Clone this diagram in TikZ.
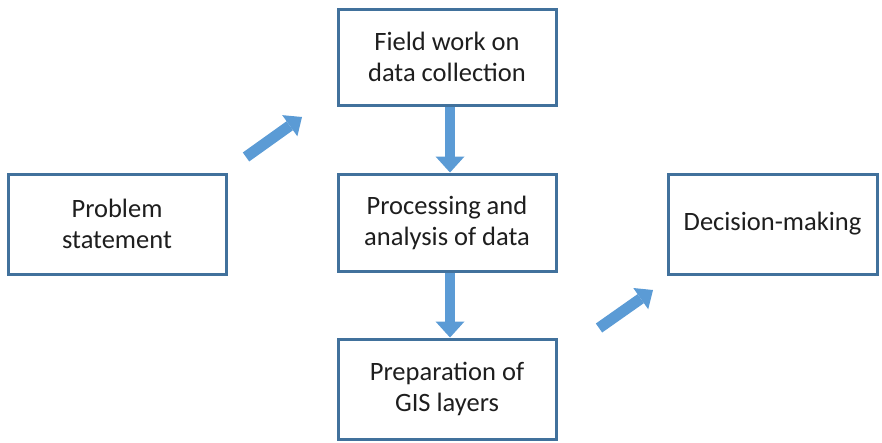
\documentclass[tikz,border=0pt]{standalone}
\usepackage{fontspec}
\setmainfont{Carlito}
\usetikzlibrary{arrows.meta}
\definecolor{boxline}{RGB}{65,113,156}
\definecolor{arrowblue}{RGB}{91,155,213}
\definecolor{txt}{RGB}{30,30,30}
\tikzset{
  stepbox/.style={draw=boxline, line width=3pt, fill=white, align=center,
    text=txt, font=\fontsize{26.5pt}{31pt}\selectfont, inner sep=0pt},
  blockdown/.style={draw=arrowblue, line width=10pt,
    -{Triangle[width=29pt,length=16pt,line width=0pt]}},
  blockdiag/.style={draw=arrowblue, line width=11pt,
    -{Triangle[width=26pt,length=15pt,line width=0pt]}}
}
\begin{document}
\begin{tikzpicture}[x=1pt,y=-1pt]
\useasboundingbox (0,0) rectangle (882,442);
\node[stepbox, minimum width=218pt, minimum height=100pt] (prob) at (117,224) {Problem\\statement};
\node[stepbox, minimum width=218pt, minimum height=96pt] (field) at (447,57) {Field work on\\data collection};
\node[stepbox, minimum width=218pt, minimum height=97pt] (proc) at (447,222.5) {Processing and\\analysis of data};
\node[stepbox, minimum width=218pt, minimum height=100pt] (gis) at (447,389) {Preparation of\\GIS layers};
\node[stepbox, minimum width=209pt, minimum height=100pt] (dec) at (772.5,224) {Decision-making};
\coordinate (d1s) at (246,157);
\coordinate (d1e) at (302,117);
\coordinate (d2s) at (599,328);
\coordinate (d2e) at (653,290);
\draw[blockdown] ([xshift=3pt]field.south) -- ([xshift=3pt]proc.north);
\draw[blockdown] ([xshift=3pt]proc.south) -- ([xshift=3pt]gis.north);
\draw[blockdiag] (d1s) -- (d1e);
\draw[blockdiag] (d2s) -- (d2e);
\end{tikzpicture}
\end{document}
